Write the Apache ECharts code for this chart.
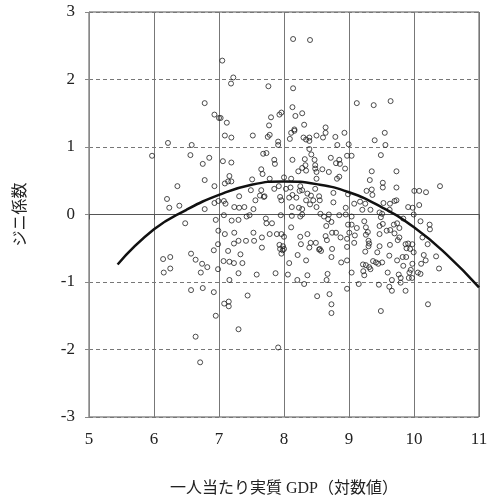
<!DOCTYPE html>
<html><head><meta charset="utf-8">
<script src="https://cdn.jsdelivr.net/npm/echarts@6/dist/echarts.min.js"></script>
<style>html,body{margin:0;padding:0;background:#fff}#c{width:488px;height:501px}</style>
</head><body><div id="c"></div>
<script>
// Scatter points: [log real GDP per capita, Gini index (standardized)]
const points = [
[6.78,1.65],[6.93,1.48],[7.00,1.43],[6.215,1.06],[6.58,1.03],
[8.14,2.60],[8.40,2.585],[7.05,2.28],[7.22,2.03],[7.185,1.94],[7.76,1.90],[8.14,1.87],[7.025,1.43],[7.12,1.36],[7.80,1.44],[7.77,1.32],[7.93,1.48],[7.96,1.51],[8.13,1.59],[8.175,1.46],[8.28,1.50],[8.31,1.33],[7.09,1.17],[7.19,1.14],[7.52,1.17],[7.75,1.15],[7.78,1.18],[7.91,1.08],[7.91,1.03],[8.09,1.12],[8.11,1.21],[8.16,1.26],[8.16,1.24],[8.30,1.14],[8.34,1.11],[8.39,1.14],[8.39,1.09],[8.50,1.17],[8.60,1.14],[8.64,1.29],[8.64,1.21],[8.79,1.15],[8.82,1.03],[8.93,1.21],[8.995,1.04],
[9.12,1.65],[9.38,1.62],[9.64,1.68],[9.55,1.21],[9.395,1.10],[9.56,1.03],
[5.97,0.87],[6.56,0.88],[6.75,0.75],[6.85,0.84],[6.36,0.42],[6.78,0.51],[6.93,0.42],[6.20,0.23],[6.235,0.10],[6.39,0.13],[6.78,0.08],[6.93,0.17],[6.99,0.20],[6.48,-0.13],[6.95,-0.08],[6.99,-0.24],[6.985,-0.44],[6.92,-0.53],[6.57,-0.58],[6.64,-0.67],[6.14,-0.66],[6.25,-0.63],[6.74,-0.73],[6.82,-0.78],[6.15,-0.86],[6.25,-0.80],[6.72,-0.86],[6.985,-0.81],
[7.06,0.79],[7.19,0.77],[7.68,0.90],[7.73,0.91],[7.85,0.81],[7.86,0.75],[8.39,0.97],[8.42,0.89],[8.13,0.81],[8.32,0.82],[8.47,0.81],[8.48,0.73],[8.48,0.68],[8.50,0.63],[8.33,0.73],[8.34,0.65],[8.22,0.64],[8.28,0.69],[8.59,0.67],[8.69,0.63],[8.72,0.84],[8.80,0.76],[8.85,0.81],[8.86,0.75],[8.97,0.87],[8.94,0.68],[7.65,0.67],[7.67,0.60],[7.16,0.57],[7.14,0.49],[7.09,0.46],[7.19,0.49],[7.51,0.52],[7.78,0.53],[8.00,0.55],[8.11,0.53],[8.815,0.53],[8.85,0.56],[8.50,0.53],
[7.49,0.36],[7.65,0.36],[7.63,0.28],[7.70,0.27],[7.85,0.38],[7.92,0.42],[7.94,0.26],[8.03,0.38],[8.10,0.40],[8.25,0.42],[8.28,0.36],[8.24,0.35],[8.48,0.38],[8.36,0.31],[8.415,0.28],[8.54,0.27],[8.45,0.21],[8.55,0.21],[8.13,0.29],[8.08,0.25],[8.19,0.25],[8.34,0.21],[8.76,0.32],[8.985,0.30],[7.075,0.20],[7.10,0.16],[7.31,0.27],[7.56,0.21],[7.69,0.26],[7.96,0.21],
[8.12,0.11],[8.23,0.10],[8.28,0.08],[8.40,0.15],[8.50,0.11],[8.76,0.18],[8.95,0.10],[7.235,0.11],[7.31,0.10],[7.39,0.11],[7.53,0.08],[7.075,-0.01],[7.47,-0.01],[7.425,-0.03],[7.195,-0.09],[7.30,-0.08],[7.72,-0.06],[7.73,-0.13],[7.815,-0.13],[7.95,-0.01],[8.12,-0.02],[8.25,-0.03],[8.28,0.00],[8.56,0.01],[8.615,-0.03],[8.69,0.00],[8.73,-0.11],[8.68,-0.07],[8.85,-0.01],[8.95,0.00],[8.985,-0.15],
[8.11,-0.19],[8.65,-0.17],[7.09,-0.29],[7.235,-0.27],[7.53,-0.27],[7.66,-0.34],[7.78,-0.29],[7.89,-0.29],[7.96,-0.29],[8.00,-0.33],[8.25,-0.33],[8.36,-0.29],[8.64,-0.32],[8.66,-0.38],[8.74,-0.27],[8.80,-0.27],[8.87,-0.34],[8.97,-0.36],[9.005,-0.27],[7.23,-0.43],[7.30,-0.39],[7.415,-0.39],[7.54,-0.39],[7.66,-0.49],[7.14,-0.54],[7.33,-0.59],[7.93,-0.45],[7.94,-0.51],[7.985,-0.47],[8.00,-0.51],[7.96,-0.58],[7.98,-0.53],[8.41,-0.42],[8.39,-0.49],[8.49,-0.42],[8.26,-0.44],[8.55,-0.51],[8.57,-0.54],[8.54,-0.52],[8.74,-0.51],[8.97,-0.48],
[8.21,-0.60],[7.07,-0.69],[7.16,-0.70],[7.23,-0.72],[7.36,-0.72],[8.08,-0.72],[8.34,-0.68],[8.73,-0.63],[8.88,-0.71],[8.97,-0.68],[7.30,-0.87],[7.58,-0.89],[7.87,-0.87],[8.06,-0.89],[8.36,-0.90],[8.67,-0.88],[7.16,-0.97],[8.205,-0.97],[8.655,-0.97],
[9.04,0.87],[9.49,0.88],[9.35,0.64],[9.73,0.64],[9.32,0.51],[9.52,0.47],[9.52,0.40],[9.73,0.40],[9.27,0.35],[9.35,0.37],[9.36,0.29],[10.005,0.35],[10.08,0.35],[10.185,0.33],[10.40,0.42],
[9.08,0.16],[9.17,0.19],[9.25,0.16],[9.53,0.17],[9.63,0.16],[9.70,0.20],[9.73,0.21],[9.205,0.07],[9.33,0.07],[9.47,0.03],[9.49,-0.04],[9.51,0.01],[9.625,0.07],[9.91,0.11],[9.98,0.10],[9.995,0.00],[10.08,0.14],[9.835,-0.06],[10.10,-0.10],[9.04,-0.03],[9.235,-0.10],[9.04,-0.15],[9.12,-0.20],[9.26,-0.19],[9.29,-0.26],[9.26,-0.30],[9.47,-0.17],[9.52,-0.14],[9.58,-0.24],[9.635,-0.23],[9.69,-0.15],[9.74,-0.13],[9.775,-0.20],[9.70,-0.28],[9.775,-0.34],[9.75,-0.38],[10.24,-0.15],[10.245,-0.22],[10.13,-0.34],[10.21,-0.44],
[9.09,-0.31],[9.08,-0.42],[9.30,-0.39],[9.31,-0.43],[9.30,-0.47],[9.47,-0.29],[9.47,-0.47],[9.63,-0.45],[9.87,-0.44],[9.91,-0.43],[9.975,-0.44],[9.885,-0.50],[9.94,-0.51],[9.25,-0.55],[9.435,-0.56],[9.62,-0.61],[9.825,-0.63],[9.88,-0.63],[9.995,-0.56],[10.15,-0.60],[10.34,-0.62],[10.18,-0.68],[9.74,-0.68],[9.415,-0.71],[9.51,-0.71],[9.215,-0.74],[9.26,-0.75],[9.37,-0.69],[9.31,-0.78],[9.33,-0.81],[9.45,-0.73],[9.975,-0.73],[9.835,-0.76],[10.11,-0.73],[9.95,-0.82],[9.93,-0.86],[10.06,-0.86],[10.10,-0.88],[10.385,-0.80],[9.04,-0.86],[9.22,-0.84],[9.235,-0.90],[9.595,-0.86],[9.765,-0.89],[9.795,-0.94],[9.66,-0.97],[9.92,-0.94],[9.97,-0.94],
[6.57,-1.12],[6.75,-1.09],[6.92,-1.15],[6.95,-1.50],[6.64,-1.81],[6.71,-2.19],
[7.08,-1.32],[7.15,-1.29],[7.15,-1.36],[7.44,-1.20],[7.30,-1.70],[7.91,-1.97],[8.31,-1.03],[8.51,-1.21],[8.70,-1.18],[8.73,-1.33],[8.73,-1.46],[8.97,-1.10],
[9.15,-1.03],[9.46,-1.04],[9.62,-1.07],[9.66,-1.13],[9.795,-1.01],[9.87,-1.13],[9.49,-1.43],[10.215,-1.33]
];
// Fitted curve
const curveX = [5.44, 6, 6.5, 7, 7.5, 8, 8.5, 9, 9.5, 10, 10.5, 11];
const curveY = [-0.74, -0.22, 0.07, 0.29, 0.44, 0.49, 0.45, 0.33, 0.11, -0.19, -0.59, -1.08];
const xRange = [5, 11, 1];
const yRange = [-3, 3, 1];
const xTitle = '一人当たり実質 GDP（対数値）';
const yTitle = 'ジニ係数';

const chart = echarts.init(document.getElementById('c'), null, {renderer: 'canvas'});
const serif = "'Liberation Serif','Noto Sans CJK JP',serif";
chart.setOption({
  animation: false,
  backgroundColor: '#fff',
  grid: {left: 89, right: 9, top: 12, bottom: 84, containLabel: false, outerBoundsMode: 'none',
         show: true, borderColor: '#555', borderWidth: 1, backgroundColor: 'transparent'},
  xAxis: {
    type: 'value', min: xRange[0], max: xRange[1], interval: xRange[2],
    name: xTitle, nameLocation: 'middle', nameGap: 64,
    nameTextStyle: {fontFamily: serif, fontSize: 16, color: '#222'},
    axisLine: {show: true, lineStyle: {color: '#555', width: 1}},
    axisTick: {show: true, inside: false, length: 5, lineStyle: {color: '#555'}},
    axisLabel: {fontFamily: serif, fontSize: 17, color: '#222', margin: 14},
    splitLine: {show: true, lineStyle: {color: '#777', width: 1, type: 'solid'}}
  },
  yAxis: {
    type: 'value', min: yRange[0], max: yRange[1], interval: yRange[2],
    name: yTitle, nameLocation: 'middle', nameGap: 60, nameRotate: 90,
    nameTextStyle: {fontFamily: serif, fontSize: 16, color: '#222'},
    axisLine: {show: true, lineStyle: {color: '#888', width: 1}},
    axisTick: {show: true, inside: false, length: 4, lineStyle: {color: '#888'}},
    axisLabel: {fontFamily: serif, fontSize: 17, color: '#222', margin: 14},
    splitLine: {show: true, lineStyle: {color: '#777', width: 1, type: [4, 3]}}
  },
  series: [
    {
      type: 'scatter', data: points, symbol: 'circle', symbolSize: 5,
      itemStyle: {color: 'rgba(255,255,255,0)', borderColor: '#222', borderWidth: 1},
      z: 2
    },
    {
      type: 'line', data: curveX.map((x, i) => [x, curveY[i]]), smooth: true,
      showSymbol: false, symbol: 'none',
      lineStyle: {color: '#111', width: 2.5}, z: 3
    }
  ]
});
</script></body></html>
